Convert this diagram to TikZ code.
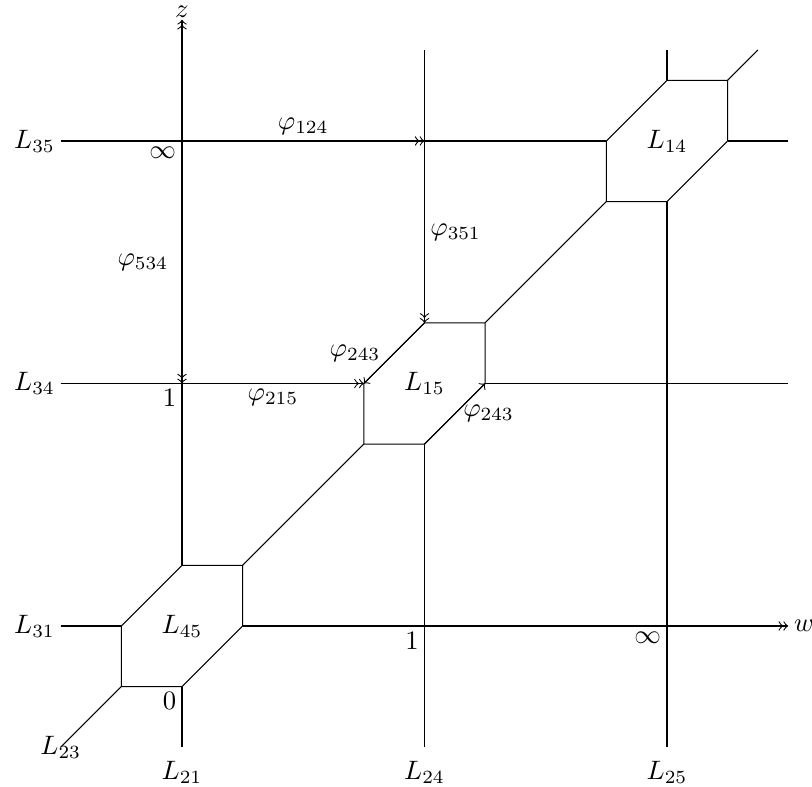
\documentclass[tikz,border=0pt]{standalone}
\begin{document}
\begin{tikzpicture}[x=3.2cm,y=3.2cm,
  ln/.style={line width=0.4pt},
  lbl/.style={inner sep=2pt}]
\useasboundingbox (-0.7505,-0.6639) rectangle (2.598,2.5814);
% hexagon vertices
\foreach \n/\cx/\cy in {45/0/0,15/1/1,14/2/2}{
  \coordinate (A\n) at (\cx,\cy+0.25);
  \coordinate (B\n) at (\cx+0.25,\cy+0.25);
  \coordinate (C\n) at (\cx+0.25,\cy);
  \coordinate (D\n) at (\cx,\cy-0.25);
  \coordinate (E\n) at (\cx-0.25,\cy-0.25);
  \coordinate (F\n) at (\cx-0.25,\cy);
}
% grid points
\coordinate (p01) at (0,1);
\coordinate (p02) at (0,2);
\coordinate (p12) at (1,2);
\coordinate (p10) at (1,0);
\coordinate (p20) at (2,0);
% free ends
\coordinate (zt) at (0,2.5);
\coordinate (wt) at (2.5,0);
\coordinate (b21) at (0,-0.5);
\coordinate (b24) at (1,-0.5);
\coordinate (b25) at (2,-0.5);
\coordinate (t24) at (1,2.375);
\coordinate (t25) at (2,2.375);
\coordinate (t14) at (2.375,2.375);
\coordinate (l31) at (-0.5,0);
\coordinate (l34) at (-0.5,1);
\coordinate (l35) at (-0.5,2);
\coordinate (r34) at (2.5,1);
\coordinate (r35) at (2.5,2);
\coordinate (e23) at (-0.5,-0.5);
% hexagons
\foreach \n in {45,15,14}{
  \draw[ln] (A\n) -- (B\n) -- (C\n) -- (D\n) -- (E\n) -- (F\n) -- cycle;
}
% vertical lines
\draw[ln] (b21) -- (D45);
\draw[ln,->>] (A45) -- (zt);
\draw[ln] (b24) -- (D15);
\draw[ln] (A15) -- (t24);
\draw[ln] (b25) -- (D14);
\draw[ln] (A14) -- (t25);
% horizontal lines
\draw[ln] (l31) -- (F45);
\draw[ln,->>] (C45) -- (wt);
\draw[ln] (l34) -- (p01);
\draw[ln] (C15) -- (r34);
\draw[ln] (l35) -- (F14);
\draw[ln] (C14) -- (r35);
% diagonals
\draw[ln] (E45) -- (e23);
\draw[ln] (B45) -- (E15);
\draw[ln] (B15) -- (E14);
\draw[ln] (B14) -- (t14);
% arrows
\draw[ln,->>] (p02) -- node[lbl,above] {$\varphi_{124}$} (p12);
\draw[ln,->>] (p02) -- node[lbl,left=3pt] {$\varphi_{534}$} (p01);
\draw[ln,->>] (p01) -- node[lbl,below] {$\varphi_{215}$} (F15);
\draw[ln,->>] (p12) -- node[lbl,right] {$\varphi_{351}$} (A15);
\draw[ln,->] (A15) -- node[lbl,left,xshift=-3pt] {$\varphi_{243}$} (F15);
\draw[ln,->] (D15) -- node[lbl,right,xshift=1pt] {$\varphi_{243}$} (C15);
% region labels
\node (n45) at (0,0) {$L_{45}$};
\node (n15) at (1,1) {$L_{15}$};
\node (n14) at (2,2) {$L_{14}$};
% line labels
\node[inner sep=0.5pt,above] (z) at (zt) {$z$};
\node[lbl,right] (w) at (wt) {$w$};
\node[lbl,left] (L35) at (l35) {$L_{35}$};
\node[lbl,left] (L34) at (l34) {$L_{34}$};
\node[lbl,left] (L31) at (l31) {$L_{31}$};
\node[lbl,below=3pt] (L21) at (b21) {$L_{21}$};
\node[lbl,below=3pt] (L24) at (b24) {$L_{24}$};
\node[lbl,below=3pt] (L25) at (b25) {$L_{25}$};
\node (L23) at (e23) {$L_{23}$};
% point labels
\node[lbl,below left] (inf1) at (p02) {$\infty$};
\node[lbl,below left] (one1) at (p01) {$1$};
\node[lbl,below left] (zero) at (D45) {$0$};
\node[lbl,below left] (one2) at (p10) {$1$};
\node[lbl,below left] (inf2) at (p20) {$\infty$};
\end{tikzpicture}
\end{document}
